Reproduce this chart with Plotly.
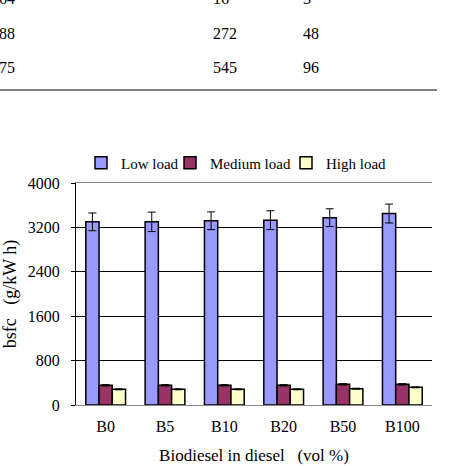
import plotly.graph_objects as go

categories = ["B0", "B5", "B10", "B20", "B50", "B100"]
low_load = [3300, 3300, 3320, 3330, 3375, 3450]
low_err = [160, 175, 160, 170, 160, 170]
medium_load = [355, 355, 355, 355, 372, 372]
medium_err = [12, 12, 12, 12, 12, 12]
high_load = [282, 282, 282, 282, 294, 318]
high_err = [8, 8, 8, 8, 8, 8]
series_names = ["Low load", "Medium load", "High load"]
colors = ["#9999FF", "#993366", "#FFFFCC"]
y_ticks = [0, 800, 1600, 2400, 3200, 4000]

table_left = ["64", "88", "5.75"]
table_mid = ["16", "272", "545"]
table_right = ["3", "48", "96"]

FONT = "Liberation Serif"
W, H = 466, 466
L, R, T, B = 76, 34, 183, 61

def py(pix):
    return (H - B - pix) / (H - T - B)

def px(pix):
    return (pix - L) / (W - L - R)

legend_ids = ["legend", "legend2", "legend3"]
legend_x = [81, 170, 286]

fig = go.Figure()
for name, vals, errs, col, lg in zip(series_names, [low_load, medium_load, high_load],
                                      [low_err, medium_err, high_err], colors, legend_ids):
    fig.add_trace(go.Bar(
        x=categories, y=vals, name=name, legend=lg,
        marker=dict(color=col, line=dict(color="black", width=1.5)),
        error_y=dict(type="data", array=errs, visible=True, color="black",
                     thickness=1, width=4),
    ))

anns = []
rows_y = [-2, 33, 68]
for yy, a, b, c in zip(rows_y, table_left, table_mid, table_right):
    anns.append(dict(text=a, x=px(17), y=py(yy), xref="paper", yref="paper",
                     xanchor="right", yanchor="middle", showarrow=False,
                     font=dict(family=FONT, size=16, color="black")))
    anns.append(dict(text=b, x=px(211), y=py(yy), xref="paper", yref="paper",
                     xanchor="left", yanchor="middle", showarrow=False,
                     font=dict(family=FONT, size=16, color="black")))
    anns.append(dict(text=c, x=px(301), y=py(yy), xref="paper", yref="paper",
                     xanchor="left", yanchor="middle", showarrow=False,
                     font=dict(family=FONT, size=16, color="black")))

shapes = [dict(type="line", xref="paper", yref="paper",
               x0=px(0), x1=px(437), y0=py(90), y1=py(90),
               line=dict(color="black", width=1))]

legend_common = dict(orientation="h", yanchor="middle", y=py(163),
                     font=dict(family=FONT, size=15), itemwidth=30,
                     bgcolor="rgba(0,0,0,0)", xanchor="left")

fig.update_layout(
    width=W, height=H,
    margin=dict(l=L, r=R, t=T, b=B, autoexpand=False),
    paper_bgcolor="white", plot_bgcolor="white",
    barmode="group", bargap=0.33, bargroupgap=0,
    font=dict(family=FONT, size=16, color="black"),
    showlegend=True,
    legend=dict(x=px(legend_x[0]), **legend_common),
    legend2=dict(x=px(legend_x[1]), **legend_common),
    legend3=dict(x=px(legend_x[2]), **legend_common),
    xaxis=dict(showline=True, linecolor="#888888", linewidth=1, mirror=True,
               ticks="", ticklabelstandoff=7, tickfont=dict(size=16), automargin=False,
               title=dict(text="Biodiesel in diesel &nbsp;&nbsp;(vol %)", standoff=14,
                          font=dict(family=FONT, size=17))),
    yaxis=dict(range=[0, 4000], tickvals=y_ticks, showgrid=True, gridcolor="black",
               gridwidth=1, showline=True, linecolor="black", linewidth=1,
               ticks="outside", ticklen=4, tickcolor="black", ticklabelstandoff=8,
               zeroline=False, tickfont=dict(size=16), automargin=False,
               title=dict(text="bsfc &nbsp;&nbsp;(g/kW h)", standoff=6,
                          font=dict(family=FONT, size=18))),
    annotations=anns, shapes=shapes,
)
fig.write_html("out.html")
